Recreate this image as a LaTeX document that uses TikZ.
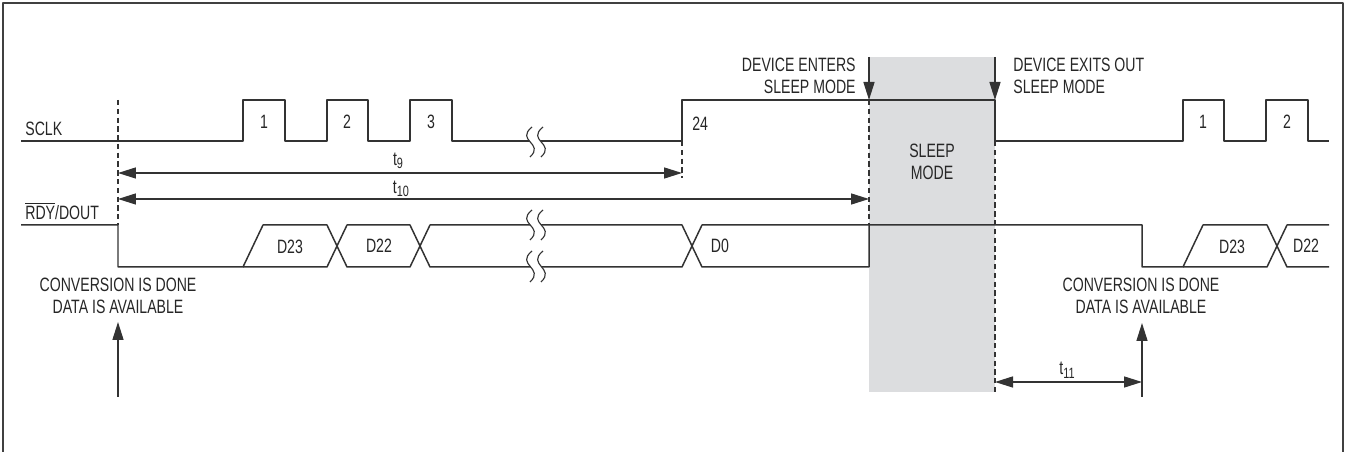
\documentclass[tikz,border=0pt]{standalone}
\usepackage{fontspec}
\setmainfont[FakeStretch=0.73]{Liberation Sans}
\usetikzlibrary{arrows.meta}
\definecolor{sleepgray}{RGB}{220,221,223}
\tikzset{
	sig/.style={line width=0.85pt,black!80},
	guide/.style={line width=0.6pt,black!80,dash pattern=on 3pt off 2pt},
	tip/.style={-{Triangle[length=3.6mm,width=2.2mm]}},
	span/.style={line width=0.85pt,black!80,{Triangle[length=3.6mm,width=2.2mm]}-{Triangle[length=3.6mm,width=2.2mm]}},
	lbl/.style={font=\fontsize{11}{12.4}\selectfont,text=black!85,inner sep=0pt},
}
\newcommand\tsub[1]{t\raisebox{-0.35ex}{\fontsize{8.5}{9}\selectfont #1}}
% break mark: x, top, bottom
\newcommand\brkmark[3]{
	\fill[white] (#1-1,#2) .. controls (#1-18,#2+14) and (#1+12,#3-14) .. (#1-3,#3)
	-- (#1+8,#3) .. controls (#1+23,#3-14) and (#1-7,#2+14) .. (#1+10,#2) -- cycle;
	\draw[line width=0.65pt,black!80] (#1-1,#2) .. controls (#1-18,#2+14) and (#1+12,#3-14) .. (#1-3,#3)
	(#1+10,#2) .. controls (#1-7,#2+14) and (#1+23,#3-14) .. (#1+8,#3);
}
\begin{document}
\begin{tikzpicture}[x=0.02cm,y=-0.02cm,line join=round]
	\useasboundingbox (0,0) rectangle (1347,452);
	\fill[sleepgray] (869,57) rectangle (995,392);
	\draw[line width=1pt,black!75] (3,452)--(3,3)--(1343,3)--(1343,452);
	
	\coordinate (ready) at (118,225);
	\coordinate (last) at (682,141);
	\coordinate (enter) at (869,100);
	\coordinate (exit) at (995,141);
	\coordinate (again) at (1142,267);
	
	% SCLK
	\node[lbl,anchor=west] (sclk) at (25,129) {SCLK};
	\draw[sig] (21,141)--(243,141)--(243,100)--(285,100)--(285,141)--(327,141)--(327,100)--(368,100)--(368,141)
	--(410,141)--(410,100)--(452,100)--(452,141)--(682,141)--(682,100)--(995,100)--(995,141)
	--(1183,141)--(1183,100)--(1224,100)--(1224,141)--(1266,141)--(1266,100)--(1308,100)--(1308,141)--(1329,141);
	\node[lbl] (c1) at (264,122) {1};
	\node[lbl] (c2) at (347,122) {2};
	\node[lbl] (c3) at (431,122) {3};
	\node[lbl,anchor=west] (c24) at (692,124) {24};
	\node[lbl] (c1b) at (1203,122) {1};
	\node[lbl] (c2b) at (1287,122) {2};
	
	% RDY/DOUT
	\node[lbl,anchor=west] (rdy) at (25,211) {$\overline{\mbox{RDY}}$/DOUT};
	\draw[sig] (21,225)--(118,225)--(118,267)--(243,267)--(263,225)--(327,225)--(347,267)--(410,267)--(430,225)
	--(682,225)--(702,267)--(869,267)--(869,225)--(1142,225)--(1142,267)--(1183,267)--(1203,225)
	--(1267,225)--(1287,267)--(1329,267);
	\draw[sig] (243,267)--(327,267)--(347,225)--(410,225)--(430,267)--(682,267)--(702,225)--(869,225);
	\draw[sig] (1183,267)--(1267,267)--(1287,225)--(1329,225);
	\node[lbl] (d23) at (290,247) {D23};
	\node[lbl] (d22) at (379,246) {D22};
	\node[lbl] (d0) at (720,246) {D0};
	\node[lbl] (d23b) at (1232,247) {D23};
	\node[lbl] (d22b) at (1306,246) {D22};
	
	\brkmark{533}{127}{157}
	\brkmark{533}{210}{240}
	\brkmark{533}{251}{282}
	
	\draw[guide] (118,100)--(ready);
	\draw[guide] (last)--(682,178);
	\draw[guide] (enter)--(869,225);
	\draw[guide] (exit)--(995,392);
	
	% timing
	\draw[span] (118,173)--(682,173);
	\node[lbl] (t9) at (398,161) {\tsub{9}};
	\draw[span] (118,199)--(869,199);
	\node[lbl] (t10) at (401,189) {\tsub{10}};
	\draw[span] (995,382)--(1142,382);
	\node[lbl] (t11) at (1067,370) {\tsub{11}};
	
	% sleep
	\draw[sig,tip] (869,57)--(enter);
	\draw[sig,tip] (995,57)--(995,100);
	\node[lbl,align=right,anchor=east] (enters) at (856,76) {DEVICE ENTERS\\SLEEP MODE};
	\node[lbl,align=left,anchor=west] (exits) at (1013,76) {DEVICE EXITS OUT\\SLEEP MODE};
	\node[lbl,align=center] (sleep) at (932,162) {SLEEP\\MODE};
	
	% conversion done
	\node[lbl,align=center] (convl) at (118,296) {CONVERSION IS DONE\\DATA IS AVAILABLE};
	\node[lbl,align=center] (convr) at (1141,296) {CONVERSION IS DONE\\DATA IS AVAILABLE};
	\draw[sig,tip] (118,397)--(118,322);
	\draw[sig,tip] (1142,397)--(1142,323);
\end{tikzpicture}
\end{document}
